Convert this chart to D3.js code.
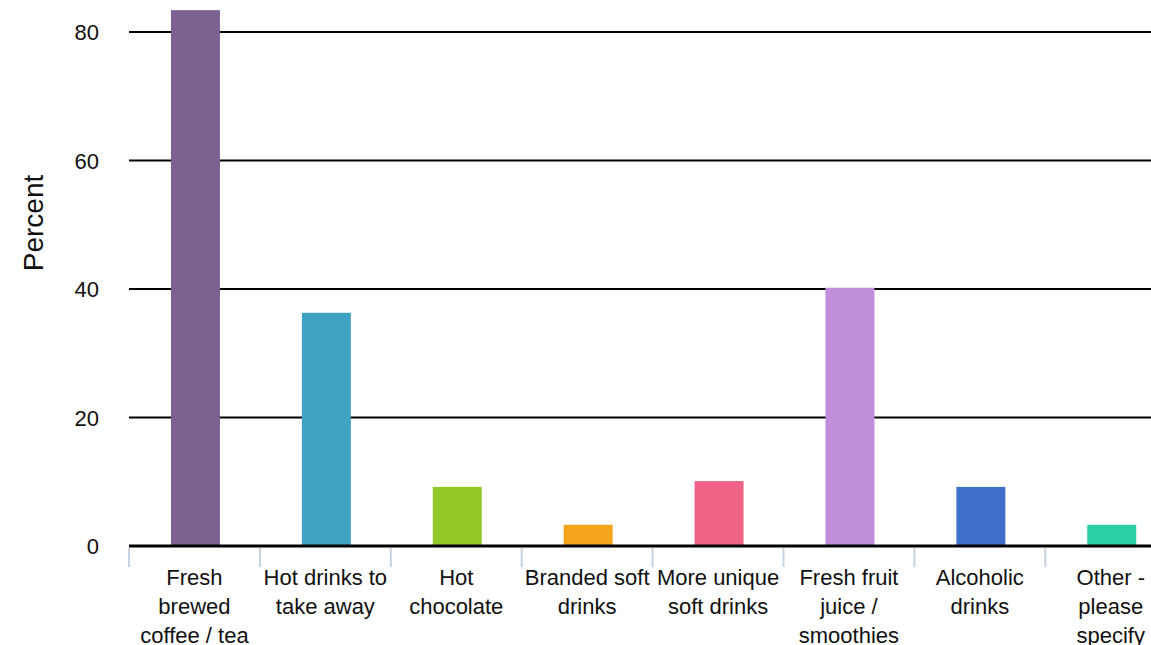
<!DOCTYPE html>
<html>
<head>
  <meta charset="utf-8">
  <title>Drinks chart</title>
  <style type="text/css">
    body { margin: 0; background-color: #fff; }
    svg { display: block; overflow: hidden; font-family: "Liberation Sans", Arial, sans-serif; }
    .grid line { stroke: #000; stroke-width: 2px; }
    .ylab { font-size: 22px; fill: #111; }
    .xlab { font-size: 22px; fill: #111; }
  </style>
  <script src="https://d3js.org/d3.v7.min.js"></script>
</head>
<body>
<script>
// categories and their wrapped tick labels
var categories = ["Fresh brewed coffee / tea", "Hot drinks to take away", "Hot chocolate",
  "Branded soft drinks", "More unique soft drinks", "Fresh fruit juice / smoothies",
  "Alcoholic drinks", "Other - please specify"];
var labelLines = [
  ["Fresh", "brewed", "coffee / tea"],
  ["Hot drinks to", "take away"],
  ["Hot", "chocolate"],
  ["Branded soft", "drinks"],
  ["More unique", "soft drinks"],
  ["Fresh fruit", "juice /", "smoothies"],
  ["Alcoholic", "drinks"],
  ["Other -", "please", "specify"]
];
var percents = [83.4, 36.3, 9.2, 3.3, 10.1, 40.2, 9.2, 3.3];
var colors = ["#7b6190", "#41a3c2", "#93c829", "#f4a41c", "#ef6486", "#bf90d9", "#3f6fcd", "#2acfa3"];
var yTicks = [0, 20, 40, 60, 80];

var W = 1151, H = 645;
var left = 129, zeroY = 546, topY = 32; // y of 0 and 80

var svg = d3.select("body").append("svg")
  .attr("width", W)
  .attr("height", H);

var x = d3.scaleBand()
  .domain(categories)
  .range([left, left + 8 * 130.9]);

var y = d3.scaleLinear()
  .domain([0, 80])
  .range([zeroY, topY]);

// gridlines
svg.append("g").attr("class", "grid")
  .selectAll("line")
  .data(yTicks.filter(function(d) { return d > 0; }))
  .enter().append("line")
    .attr("x1", left)
    .attr("x2", W)
    .attr("y1", function(d) { return y(d); })
    .attr("y2", function(d) { return y(d); });

// bars
var barW = 49;
svg.selectAll("rect.bar")
  .data(percents)
  .enter().append("rect")
    .attr("class", "bar")
    .attr("x", function(d, i) { return x(categories[i]) + x.bandwidth() / 2 - barW / 2 + 1; })
    .attr("y", function(d) { return y(d); })
    .attr("width", barW)
    .attr("height", function(d) { return zeroY - y(d); })
    .style("fill", function(d, i) { return colors[i]; });

// baseline
svg.append("line")
  .attr("x1", left).attr("x2", W)
  .attr("y1", zeroY).attr("y2", zeroY)
  .attr("stroke", "#000").attr("stroke-width", 3);

// category ticks
svg.selectAll("line.xtick")
  .data(categories)
  .enter().append("line")
    .attr("class", "xtick")
    .attr("x1", function(d) { return x(d); })
    .attr("x2", function(d) { return x(d); })
    .attr("y1", zeroY + 2)
    .attr("y2", zeroY + 21)
    .attr("stroke", "#c3d3e3")
    .attr("stroke-width", 2);

// y tick labels
svg.selectAll("text.ylab")
  .data(yTicks)
  .enter().append("text")
    .attr("class", "ylab")
    .attr("x", 99)
    .attr("y", function(d) { return y(d) + 8; })
    .attr("text-anchor", "end")
    .text(function(d) { return d; });

// category labels
var xl = svg.selectAll("text.xlab")
  .data(categories)
  .enter().append("text")
    .attr("class", "xlab")
    .attr("text-anchor", "middle")
    .attr("x", function(d) { return x(d) + x.bandwidth() / 2; })
    .attr("y", 585);

xl.selectAll("tspan")
  .data(function(d, i) { return labelLines[i]; })
  .enter().append("tspan")
    .attr("x", function() { return d3.select(this.parentNode).attr("x"); })
    .attr("dy", function(d, i) { return i === 0 ? 0 : 29; })
    .text(function(d) { return d; });

// y axis title
svg.append("text")
  .attr("transform", "translate(43,223) rotate(-90)")
  .attr("text-anchor", "middle")
  .style("font-size", "28px")
  .style("fill", "#111")
  .text("Percent");
</script>
</body>
</html>
